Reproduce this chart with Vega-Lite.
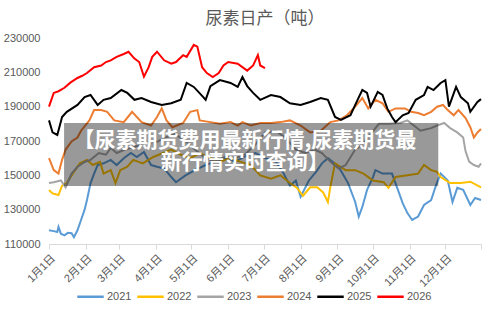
{
  "$schema": "https://vega.github.io/schema/vega-lite/v6.json",
  "width": 432,
  "height": 206,
  "autosize": {"type": "none"},
  "padding": {"left": 49, "top": 38, "right": 19, "bottom": 66},
  "background": "white",
  "title": {"text": "尿素日产（吨）", "font": "Noto Sans CJK SC", "fontSize": 17, "fontWeight": "normal", "color": "#595959", "offset": 4, "anchor": "middle"},
  "config": {"view": {"stroke": null}},
  "resolve": {"axis": {"x": "independent", "y": "independent"}},
  "datasets": {
    "lines": [
      {"year":"2021","day":1,"value":118000},{"year":"2021","day":5,"value":117500},{"year":"2021","day":8,"value":117000},{"year":"2021","day":9,"value":120000},{"year":"2021","day":11,"value":116000},{"year":"2021","day":14,"value":115000},{"year":"2021","day":17,"value":116500},{"year":"2021","day":20,"value":116300},{"year":"2021","day":22,"value":114000},{"year":"2021","day":25,"value":118000},{"year":"2021","day":28,"value":124000},{"year":"2021","day":31,"value":130000},{"year":"2021","day":33,"value":135600},{"year":"2021","day":36,"value":145500},{"year":"2021","day":39,"value":151000},{"year":"2021","day":42,"value":156000},{"year":"2021","day":47,"value":157000},{"year":"2021","day":53,"value":159000},{"year":"2021","day":58,"value":156000},{"year":"2021","day":64,"value":160000},{"year":"2021","day":70,"value":163000},{"year":"2021","day":75,"value":160700},{"year":"2021","day":81,"value":163600},{"year":"2021","day":87,"value":156000},{"year":"2021","day":92,"value":155000},{"year":"2021","day":98,"value":154000},{"year":"2021","day":104,"value":149000},{"year":"2021","day":108,"value":146000},{"year":"2021","day":116,"value":150000},{"year":"2021","day":124,"value":153000},{"year":"2021","day":133,"value":156000},{"year":"2021","day":141,"value":158000},{"year":"2021","day":150,"value":160000},{"year":"2021","day":158,"value":158000},{"year":"2021","day":166,"value":161000},{"year":"2021","day":175,"value":163000},{"year":"2021","day":183,"value":160000},{"year":"2021","day":192,"value":158000},{"year":"2021","day":198,"value":152000},{"year":"2021","day":204,"value":144000},{"year":"2021","day":209,"value":147000},{"year":"2021","day":213,"value":137500},{"year":"2021","day":220,"value":147000},{"year":"2021","day":226,"value":152000},{"year":"2021","day":231,"value":157000},{"year":"2021","day":236,"value":160000},{"year":"2021","day":245,"value":155000},{"year":"2021","day":253,"value":145500},{"year":"2021","day":259,"value":134500},{"year":"2021","day":262,"value":126000},{"year":"2021","day":265,"value":131600},{"year":"2021","day":269,"value":141500},{"year":"2021","day":274,"value":149000},{"year":"2021","day":276,"value":153000},{"year":"2021","day":282,"value":151000},{"year":"2021","day":290,"value":151000},{"year":"2021","day":295,"value":141500},{"year":"2021","day":299,"value":133800},{"year":"2021","day":303,"value":128000},{"year":"2021","day":307,"value":124000},{"year":"2021","day":312,"value":126000},{"year":"2021","day":317,"value":132700},{"year":"2021","day":323,"value":135600},{"year":"2021","day":327,"value":144000},{"year":"2021","day":331,"value":151000},{"year":"2021","day":337,"value":147000},{"year":"2021","day":341,"value":134500},{"year":"2021","day":345,"value":142700},{"year":"2021","day":350,"value":141500},{"year":"2021","day":356,"value":132700},{"year":"2021","day":360,"value":136800},{"year":"2021","day":365,"value":135600},
      {"year":"2022","day":1,"value":141500},{"year":"2022","day":4,"value":139500},{"year":"2022","day":9,"value":138500},{"year":"2022","day":12,"value":144000},{"year":"2022","day":16,"value":145500},{"year":"2022","day":21,"value":151000},{"year":"2022","day":27,"value":157000},{"year":"2022","day":33,"value":159000},{"year":"2022","day":38,"value":156000},{"year":"2022","day":44,"value":157800},{"year":"2022","day":47,"value":151000},{"year":"2022","day":53,"value":153000},{"year":"2022","day":57,"value":145500},{"year":"2022","day":61,"value":153000},{"year":"2022","day":67,"value":155000},{"year":"2022","day":72,"value":159000},{"year":"2022","day":80,"value":157000},{"year":"2022","day":89,"value":160700},{"year":"2022","day":97,"value":163000},{"year":"2022","day":104,"value":165000},{"year":"2022","day":112,"value":162000},{"year":"2022","day":120,"value":160000},{"year":"2022","day":128,"value":163000},{"year":"2022","day":137,"value":160000},{"year":"2022","day":145,"value":158000},{"year":"2022","day":154,"value":160000},{"year":"2022","day":162,"value":158000},{"year":"2022","day":171,"value":156000},{"year":"2022","day":179,"value":150000},{"year":"2022","day":188,"value":148000},{"year":"2022","day":196,"value":150000},{"year":"2022","day":204,"value":145500},{"year":"2022","day":210,"value":142700},{"year":"2022","day":215,"value":138000},{"year":"2022","day":221,"value":143000},{"year":"2022","day":227,"value":143000},{"year":"2022","day":232,"value":140000},{"year":"2022","day":236,"value":134500},{"year":"2022","day":238,"value":143000},{"year":"2022","day":242,"value":157000},{"year":"2022","day":251,"value":153000},{"year":"2022","day":259,"value":153000},{"year":"2022","day":266,"value":151000},{"year":"2022","day":274,"value":147000},{"year":"2022","day":283,"value":146000},{"year":"2022","day":287,"value":142700},{"year":"2022","day":293,"value":149000},{"year":"2022","day":303,"value":150000},{"year":"2022","day":312,"value":151000},{"year":"2022","day":317,"value":156000},{"year":"2022","day":323,"value":153000},{"year":"2022","day":328,"value":152000},{"year":"2022","day":331,"value":149000},{"year":"2022","day":339,"value":145500},{"year":"2022","day":348,"value":145500},{"year":"2022","day":356,"value":146300},{"year":"2022","day":365,"value":143000},
      {"year":"2023","day":1,"value":145500},{"year":"2023","day":5,"value":146000},{"year":"2023","day":11,"value":147000},{"year":"2023","day":15,"value":143000},{"year":"2023","day":20,"value":151000},{"year":"2023","day":25,"value":155000},{"year":"2023","day":31,"value":157800},{"year":"2023","day":36,"value":159000},{"year":"2023","day":43,"value":163000},{"year":"2023","day":49,"value":162000},{"year":"2023","day":53,"value":166000},{"year":"2023","day":58,"value":163000},{"year":"2023","day":65,"value":165000},{"year":"2023","day":73,"value":166500},{"year":"2023","day":81,"value":168800},{"year":"2023","day":92,"value":169500},{"year":"2023","day":99,"value":172000},{"year":"2023","day":107,"value":174000},{"year":"2023","day":116,"value":170000},{"year":"2023","day":124,"value":165000},{"year":"2023","day":133,"value":160000},{"year":"2023","day":141,"value":158000},{"year":"2023","day":150,"value":161000},{"year":"2023","day":158,"value":160000},{"year":"2023","day":166,"value":162000},{"year":"2023","day":175,"value":168000},{"year":"2023","day":183,"value":175000},{"year":"2023","day":192,"value":176000},{"year":"2023","day":200,"value":172000},{"year":"2023","day":209,"value":165000},{"year":"2023","day":217,"value":163000},{"year":"2023","day":225,"value":165000},{"year":"2023","day":231,"value":163000},{"year":"2023","day":238,"value":158000},{"year":"2023","day":245,"value":154000},{"year":"2023","day":251,"value":156000},{"year":"2023","day":259,"value":165000},{"year":"2023","day":265,"value":168000},{"year":"2023","day":272,"value":174000},{"year":"2023","day":279,"value":180000},{"year":"2023","day":287,"value":180000},{"year":"2023","day":297,"value":180500},{"year":"2023","day":303,"value":182000},{"year":"2023","day":314,"value":176000},{"year":"2023","day":323,"value":177500},{"year":"2023","day":328,"value":179000},{"year":"2023","day":334,"value":180500},{"year":"2023","day":339,"value":177500},{"year":"2023","day":345,"value":175000},{"year":"2023","day":350,"value":172000},{"year":"2023","day":352,"value":164000},{"year":"2023","day":355,"value":158000},{"year":"2023","day":359,"value":156000},{"year":"2023","day":363,"value":155000},{"year":"2023","day":365,"value":157000},
      {"year":"2024","day":1,"value":160000},{"year":"2024","day":5,"value":153000},{"year":"2024","day":9,"value":151000},{"year":"2024","day":12,"value":159000},{"year":"2024","day":15,"value":165000},{"year":"2024","day":20,"value":169700},{"year":"2024","day":25,"value":172000},{"year":"2024","day":28,"value":176000},{"year":"2024","day":35,"value":182000},{"year":"2024","day":39,"value":188000},{"year":"2024","day":45,"value":188000},{"year":"2024","day":50,"value":187000},{"year":"2024","day":56,"value":182000},{"year":"2024","day":64,"value":181000},{"year":"2024","day":71,"value":187000},{"year":"2024","day":79,"value":181000},{"year":"2024","day":87,"value":179000},{"year":"2024","day":92,"value":184000},{"year":"2024","day":96,"value":189000},{"year":"2024","day":100,"value":182000},{"year":"2024","day":105,"value":178000},{"year":"2024","day":114,"value":180500},{"year":"2024","day":120,"value":187000},{"year":"2024","day":126,"value":188000},{"year":"2024","day":128,"value":182000},{"year":"2024","day":137,"value":181000},{"year":"2024","day":145,"value":180000},{"year":"2024","day":154,"value":181000},{"year":"2024","day":160,"value":179000},{"year":"2024","day":164,"value":181000},{"year":"2024","day":171,"value":179000},{"year":"2024","day":179,"value":180500},{"year":"2024","day":188,"value":180500},{"year":"2024","day":196,"value":181000},{"year":"2024","day":204,"value":182000},{"year":"2024","day":213,"value":179000},{"year":"2024","day":221,"value":175000},{"year":"2024","day":230,"value":176000},{"year":"2024","day":238,"value":181000},{"year":"2024","day":245,"value":182000},{"year":"2024","day":252,"value":185000},{"year":"2024","day":259,"value":190000},{"year":"2024","day":265,"value":195000},{"year":"2024","day":270,"value":189000},{"year":"2024","day":276,"value":194000},{"year":"2024","day":282,"value":192000},{"year":"2024","day":287,"value":187000},{"year":"2024","day":293,"value":189000},{"year":"2024","day":301,"value":189000},{"year":"2024","day":306,"value":187000},{"year":"2024","day":312,"value":186300},{"year":"2024","day":317,"value":185000},{"year":"2024","day":323,"value":187000},{"year":"2024","day":328,"value":190000},{"year":"2024","day":333,"value":191000},{"year":"2024","day":337,"value":188000},{"year":"2024","day":342,"value":185000},{"year":"2024","day":346,"value":188000},{"year":"2024","day":352,"value":183400},{"year":"2024","day":356,"value":178000},{"year":"2024","day":359,"value":172000},{"year":"2024","day":362,"value":175000},{"year":"2024","day":365,"value":177000},
      {"year":"2025","day":1,"value":182000},{"year":"2025","day":4,"value":175000},{"year":"2025","day":8,"value":173500},{"year":"2025","day":12,"value":184000},{"year":"2025","day":16,"value":187000},{"year":"2025","day":25,"value":191000},{"year":"2025","day":31,"value":195600},{"year":"2025","day":36,"value":196800},{"year":"2025","day":42,"value":191000},{"year":"2025","day":47,"value":194000},{"year":"2025","day":53,"value":195000},{"year":"2025","day":62,"value":199700},{"year":"2025","day":67,"value":198000},{"year":"2025","day":73,"value":194000},{"year":"2025","day":79,"value":195000},{"year":"2025","day":87,"value":192700},{"year":"2025","day":96,"value":191000},{"year":"2025","day":104,"value":192000},{"year":"2025","day":112,"value":194000},{"year":"2025","day":117,"value":203800},{"year":"2025","day":123,"value":201500},{"year":"2025","day":131,"value":195600},{"year":"2025","day":133,"value":194000},{"year":"2025","day":137,"value":202000},{"year":"2025","day":145,"value":205500},{"year":"2025","day":154,"value":203800},{"year":"2025","day":160,"value":201500},{"year":"2025","day":164,"value":207300},{"year":"2025","day":168,"value":202000},{"year":"2025","day":173,"value":198000},{"year":"2025","day":179,"value":194000},{"year":"2025","day":188,"value":196800},{"year":"2025","day":196,"value":195600},{"year":"2025","day":204,"value":192000},{"year":"2025","day":213,"value":191000},{"year":"2025","day":221,"value":192700},{"year":"2025","day":230,"value":195000},{"year":"2025","day":236,"value":194000},{"year":"2025","day":242,"value":184000},{"year":"2025","day":247,"value":182300},{"year":"2025","day":255,"value":185000},{"year":"2025","day":261,"value":194000},{"year":"2025","day":265,"value":199700},{"year":"2025","day":269,"value":198000},{"year":"2025","day":272,"value":190000},{"year":"2025","day":278,"value":198600},{"year":"2025","day":282,"value":196800},{"year":"2025","day":286,"value":189000},{"year":"2025","day":290,"value":184000},{"year":"2025","day":293,"value":181000},{"year":"2025","day":299,"value":185000},{"year":"2025","day":304,"value":186300},{"year":"2025","day":310,"value":194000},{"year":"2025","day":317,"value":196800},{"year":"2025","day":320,"value":201500},{"year":"2025","day":325,"value":199700},{"year":"2025","day":331,"value":203800},{"year":"2025","day":335,"value":205500},{"year":"2025","day":338,"value":190000},{"year":"2025","day":344,"value":201500},{"year":"2025","day":348,"value":195600},{"year":"2025","day":354,"value":192000},{"year":"2025","day":356,"value":187000},{"year":"2025","day":362,"value":192700},{"year":"2025","day":365,"value":194400},
      {"year":"2026","day":1,"value":190000},{"year":"2026","day":5,"value":198000},{"year":"2026","day":9,"value":199000},{"year":"2026","day":14,"value":201000},{"year":"2026","day":19,"value":204000},{"year":"2026","day":25,"value":206700},{"year":"2026","day":29,"value":208000},{"year":"2026","day":33,"value":209600},{"year":"2026","day":39,"value":213000},{"year":"2026","day":45,"value":214000},{"year":"2026","day":49,"value":216000},{"year":"2026","day":53,"value":217000},{"year":"2026","day":58,"value":219000},{"year":"2026","day":64,"value":220700},{"year":"2026","day":68,"value":222000},{"year":"2026","day":73,"value":218000},{"year":"2026","day":77,"value":216000},{"year":"2026","day":81,"value":207500},{"year":"2026","day":85,"value":213000},{"year":"2026","day":88,"value":219000},{"year":"2026","day":92,"value":222000},{"year":"2026","day":98,"value":217000},{"year":"2026","day":104,"value":215000},{"year":"2026","day":108,"value":216000},{"year":"2026","day":114,"value":220000},{"year":"2026","day":117,"value":219000},{"year":"2026","day":123,"value":226000},{"year":"2026","day":126,"value":225000},{"year":"2026","day":130,"value":213000},{"year":"2026","day":134,"value":209600},{"year":"2026","day":139,"value":207300},{"year":"2026","day":144,"value":209600},{"year":"2026","day":148,"value":214000},{"year":"2026","day":152,"value":216000},{"year":"2026","day":160,"value":215000},{"year":"2026","day":168,"value":211000},{"year":"2026","day":173,"value":214000},{"year":"2026","day":177,"value":220000},{"year":"2026","day":179,"value":214000},{"year":"2026","day":183,"value":212500}
    ],
    "banner": [{"x0": 13.7, "x1": 329, "y0": 180500, "y1": 143800}],
    "bannerText": [
      {"tx": 166, "ty": 170000, "t": "【尿素期货费用最新行情,尿素期货最"},
      {"tx": 166, "ty": 157300, "t": "新行情实时查询】"}
    ]
  },
  "layer": [
    {
      "data": {"name": "lines"},
      "mark": {"type": "line", "strokeWidth": 2},
      "encoding": {
        "x": {"field": "day", "type": "quantitative", "scale": {"domain": [1, 365], "nice": false, "zero": false},
          "axis": {"title": null, "values": [1, 32, 60, 91, 121, 152, 182, 213, 244, 274, 305, 335, 365],
            "labelExpr": "datum.value == 365 ? '' : timeFormat(datetime(2023, 0, datum.value), '%-m月%-d日')",
            "labelAngle": -45, "labelFlush": false, "labelOverlap": false, "labelBound": false, "grid": false,
            "domainColor": "#d9d9d9", "tickColor": "#d9d9d9", "tickSize": 5, "labelColor": "#595959",
            "labelFontSize": 11, "labelFont": "Liberation Sans, Noto Sans CJK SC", "labelPadding": 3}},
        "y": {"field": "value", "type": "quantitative", "scale": {"domain": [110000, 230000], "nice": false, "zero": false},
          "axis": {"title": null, "values": [110000, 130000, 150000, 170000, 190000, 210000, 230000], "format": "d",
            "domain": false, "ticks": false, "grid": false, "labelOverlap": false, "labelColor": "#595959", "labelFontSize": 11,
            "labelFont": "Liberation Sans", "labelPadding": 9}},
        "color": {"field": "year", "type": "nominal",
          "scale": {"domain": ["2021", "2022", "2023", "2024", "2025", "2026"], "range": ["#5b9bd5", "#ffc000", "#a5a5a5", "#ed7d31", "#000000", "#ff0000"]},
          "legend": {"title": null, "orient": "none", "legendX": 27, "legendY": 244, "direction": "horizontal", "symbolType": "stroke", "symbolSize": 700,
            "symbolStrokeWidth": 2.5, "labelFontSize": 11, "labelColor": "#595959", "labelFont": "Liberation Sans",
            "labelOffset": 2, "columnPadding": 0}}
      }
    },
    {
      "data": {"name": "banner"},
      "mark": {"type": "rect", "fill": "#000000", "opacity": 0.4},
      "encoding": {
        "x": {"field": "x0", "type": "quantitative", "axis": null},
        "x2": {"field": "x1"},
        "y": {"field": "y0", "type": "quantitative", "axis": null},
        "y2": {"field": "y1"}
      }
    },
    {
      "data": {"name": "bannerText"},
      "mark": {"type": "text", "color": "#ffffff", "font": "Noto Sans CJK SC", "fontWeight": "bold", "fontSize": 21, "align": "center", "baseline": "middle"},
      "encoding": {
        "x": {"field": "tx", "type": "quantitative", "axis": null},
        "y": {"field": "ty", "type": "quantitative", "axis": null},
        "text": {"field": "t"}
      }
    }
  ]
}
